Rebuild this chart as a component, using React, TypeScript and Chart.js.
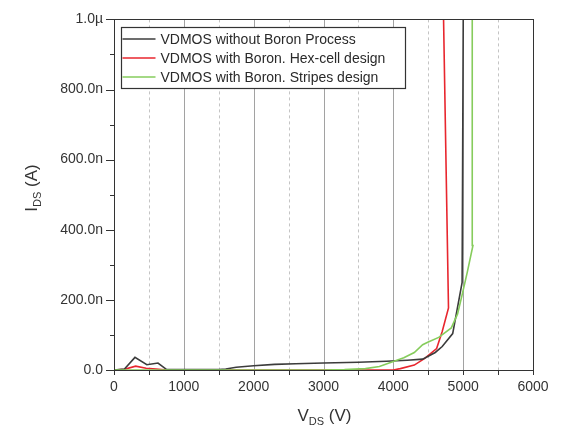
import React, { useEffect, useRef } from "react";
import { Chart, registerables } from "chart.js";

Chart.register(...registerables);

// Drain-source voltage (V) and leakage current (nA) for each device
const noBoronV = [0, 150, 300, 470, 630, 750, 1000, 1500, 1600, 1750, 2000, 2300, 2600, 3000, 3500, 3900, 4200, 4420, 4600, 4700, 4850, 4985, 5003];
const noBoronI = [0, 3, 36, 15, 20, 2, 1, 1, 3, 8, 12, 16, 18, 20, 22, 25, 28, 31, 50, 67, 104, 250, 1100];

const hexV = [0, 150, 310, 460, 600, 760, 1000, 2000, 3000, 3500, 4000, 4100, 4300, 4450, 4620, 4700, 4790, 4715];
const hexI = [0, 2, 11, 5, 3, 0, 0, 0, 0, 0, 0, 4, 14, 33, 61, 110, 177, 1050];

const stripesV = [0, 1000, 2000, 3000, 3300, 3600, 3800, 4000, 4150, 4300, 4420, 4500, 4650, 4830, 4920, 4980, 5060, 5140, 5130];
const stripesI = [0, 0, 0, 0, 1, 4, 10, 24, 35, 50, 72, 80, 93, 120, 160, 210, 280, 355, 1050];

const seriesLabels = [
  "VDMOS without Boron Process",
  "VDMOS with Boron. Hex-cell design",
  "VDMOS with Boron. Stripes design",
];
const seriesColors = ["#3c3c3c", "#e8262e", "#86cc5c"];

const xTicks = [0, 1000, 2000, 3000, 4000, 5000, 6000];
const yTicks = [0, 200, 400, 600, 800, 1000];

const FONT = "'Liberation Sans', Arial, sans-serif";
const AXIS = "#333333";

const pts = (xs: number[], ys: number[]) => xs.map((x, i) => ({ x, y: ys[i] }));

const fmtY = (v: number) => (v === 0 ? "0.0" : v >= 1000 ? (v / 1000).toFixed(1) + "µ" : v.toFixed(1) + "n");

const decor = {
  id: "decor",
  beforeDatasetsDraw(chart: any) {
    const { ctx, chartArea: a, scales } = chart;
    const xs = scales.x;
    ctx.save();
    for (let v = 500; v < 6000; v += 500) {
      const px = Math.round(xs.getPixelForValue(v)) + 0.5;
      const major = v % 1000 === 0;
      ctx.beginPath();
      ctx.strokeStyle = major ? "#a2a2a2" : "#c4c4c4";
      ctx.lineWidth = 1;
      ctx.setLineDash(major ? [] : [3, 3]);
      ctx.moveTo(px, a.top);
      ctx.lineTo(px, a.bottom);
      ctx.stroke();
    }
    ctx.restore();
  },
  afterDraw(chart: any) {
    const { ctx, chartArea: a, scales } = chart;
    const xs = scales.x;
    const ys = scales.y;
    ctx.save();
    // frame
    ctx.strokeStyle = AXIS;
    ctx.lineWidth = 1;
    ctx.setLineDash([]);
    ctx.strokeRect(Math.round(a.left) + 0.5, Math.round(a.top) + 0.5, Math.round(a.right - a.left), Math.round(a.bottom - a.top));
    // tick marks
    ctx.beginPath();
    for (let v = 0; v <= 6000; v += 500) {
      const px = Math.round(xs.getPixelForValue(v)) + 0.5;
      ctx.moveTo(px, a.bottom);
      ctx.lineTo(px, a.bottom + 5);
    }
    for (let v = 0; v <= 1000; v += 100) {
      const py = Math.round(ys.getPixelForValue(v)) + 0.5;
      const len = v % 200 === 0 ? 8 : 4;
      ctx.moveTo(a.left, py);
      ctx.lineTo(a.left - len, py);
    }
    ctx.stroke();

    // axis titles with subscripts
    const drawTitle = (main: string, sub: string, rest: string) => {
      ctx.font = `17px ${FONT}`;
      const w1 = ctx.measureText(main).width;
      const w3 = ctx.measureText(rest).width;
      ctx.font = `11px ${FONT}`;
      const w2 = ctx.measureText(sub).width;
      const total = w1 + w2 + w3;
      let x = -total / 2;
      ctx.fillStyle = "#333";
      ctx.textBaseline = "alphabetic";
      ctx.textAlign = "left";
      ctx.font = `17px ${FONT}`;
      ctx.fillText(main, x, 0);
      x += w1;
      ctx.font = `11px ${FONT}`;
      ctx.fillText(sub, x, 4);
      x += w2;
      ctx.font = `17px ${FONT}`;
      ctx.fillText(rest, x, 0);
    };
    ctx.save();
    ctx.translate((a.left + a.right) / 2 + 1, 421);
    drawTitle("V", "DS", " (V)");
    ctx.restore();
    ctx.save();
    ctx.translate(37, 188);
    ctx.rotate(-Math.PI / 2);
    drawTitle("I", "DS", " (A)");
    ctx.restore();

    // legend box
    const bx = Math.round(a.left) + 7.5;
    const by = Math.round(a.top) + 8.5;
    const bw = 284;
    const bh = 61;
    ctx.fillStyle = "#ffffff";
    ctx.fillRect(bx, by, bw, bh);
    ctx.strokeStyle = "#333";
    ctx.lineWidth = 1.2;
    ctx.strokeRect(bx, by, bw, bh);
    ctx.font = `14px ${FONT}`;
    ctx.textBaseline = "middle";
    ctx.textAlign = "left";
    seriesLabels.forEach((lab, i) => {
      const ry = by + 11.5 + i * 19;
      ctx.beginPath();
      ctx.strokeStyle = seriesColors[i];
      ctx.lineWidth = 1.5;
      ctx.moveTo(bx + 1, ry);
      ctx.lineTo(bx + 34, ry);
      ctx.stroke();
      ctx.fillStyle = "#2a2a2a";
      ctx.fillText(lab, bx + 39, ry + 1);
    });
    ctx.restore();
  },
};

export default function App() {
  const ref = useRef<HTMLCanvasElement | null>(null);

  useEffect(() => {
    if (!ref.current) return;
    const data = [pts(noBoronV, noBoronI), pts(hexV, hexI), pts(stripesV, stripesI)];
    const orders = [1, 2, 0];
    const chart = new Chart(ref.current, {
      type: "line",
      data: {
        datasets: data.map((d, i) => ({
          label: seriesLabels[i],
          data: d,
          borderColor: seriesColors[i],
          backgroundColor: seriesColors[i],
          borderWidth: 1.6,
          pointRadius: 0,
          tension: 0,
          fill: false,
          order: orders[i],
        })),
      },
      options: {
        animation: false,
        responsive: false,
        maintainAspectRatio: false,
        layout: { padding: { left: 0, top: 13, right: 28, bottom: 0 } },
        plugins: { legend: { display: false }, tooltip: { enabled: false } },
        scales: {
          x: {
            type: "linear",
            min: 0,
            max: 6000,
            afterFit: (s: any) => {
              s.height = 59;
            },
            afterBuildTicks: (s: any) => {
              s.ticks = xTicks.map((v) => ({ value: v }));
            },
            ticks: {
              autoSkip: false,
              maxRotation: 0,
              padding: 9,
              color: AXIS,
              font: { family: FONT, size: 14 },
              callback: (v: any) => String(v),
            },
            grid: { drawOnChartArea: false, drawTicks: false },
            border: { display: false },
          },
          y: {
            type: "linear",
            min: 0,
            max: 1000,
            afterFit: (s: any) => {
              s.width = 114;
            },
            afterBuildTicks: (s: any) => {
              s.ticks = yTicks.map((v) => ({ value: v }));
            },
            ticks: {
              autoSkip: false,
              padding: 11,
              color: AXIS,
              font: { family: FONT, size: 14 },
              callback: (v: any) => fmtY(Number(v)),
            },
            grid: { drawOnChartArea: false, drawTicks: false },
            border: { display: false },
          },
        },
      },
      plugins: [decor],
    });
    return () => chart.destroy();
  }, []);

  return (
    <div style={{ position: "fixed", left: 0, top: 0, width: 561, height: 429, background: "#fff" }}>
      <canvas ref={ref} width={561} height={429} style={{ width: 561, height: 429, display: "block" }} />
    </div>
  );
}
